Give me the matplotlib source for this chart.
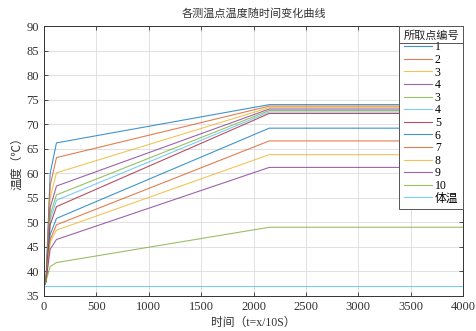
import matplotlib.pyplot as plt
from matplotlib.lines import Line2D

# time points (x = t*10 s)
t = [0, 20, 60, 120, 2150, 4000]

temp_1 = [37, 38, 60.0, 66.2, 74.0, 74.0]
temp_2 = [37, 38, 57.5, 63.2, 73.7, 73.7]
temp_3 = [37, 38, 55.0, 60.1, 73.4, 73.4]
temp_4 = [37, 38, 53.0, 57.4, 73.1, 73.1]
temp_3b = [37, 38, 51.5, 55.6, 72.8, 72.8]
temp_4b = [37, 38, 50.5, 54.5, 72.5, 72.5]
temp_5 = [37, 38, 49.5, 53.2, 72.2, 72.2]
temp_6 = [37, 38, 47.5, 50.8, 69.2, 69.2]
temp_7 = [37, 38, 46.5, 49.5, 66.6, 66.6]
temp_8 = [37, 38, 46.0, 48.4, 63.8, 63.8]
temp_9 = [37, 38, 44.5, 46.5, 61.2, 61.2]
temp_10 = [37, 38, 41.0, 41.8, 49.0, 49.0]
body = [37, 37, 37, 37, 37, 37]

series = [temp_1, temp_2, temp_3, temp_4, temp_3b, temp_4b, temp_5,
          temp_6, temp_7, temp_8, temp_9, temp_10, body]
labels = ['1', '2', '3', '4', '3', '4', '5', '6', '7', '8', '9', '10', '体温']

# matlab default colour order
colors = ['#0072BD', '#D95319', '#EDB120', '#7E2F8E', '#77AC30', '#4DBEEE',
          '#A2142F', '#0072BD', '#D95319', '#EDB120', '#7E2F8E', '#77AC30',
          '#4DBEEE']

fam = ['Liberation Serif', 'Noto Sans CJK SC']
plt.rcParams['font.family'] = fam

fig = plt.figure(figsize=(4.77, 3.31), dpi=100)
ax = fig.add_axes([0.092, 0.106, 0.879, 0.815])

for y, lab, c in zip(series, labels, colors):
    ax.plot(t, y, color=c, lw=0.8, alpha=0.75, label=lab)

ax.set_xlim(0, 4000)
ax.set_ylim(35, 90)
ax.set_xticks(range(0, 4001, 500))
ax.set_yticks(range(35, 91, 5))
ax.grid(True, color='#dcdcdc', lw=0.6)
ax.set_axisbelow(True)
ax.tick_params(direction='in', length=3, labelsize=9, top=True, right=True,
               colors='#333333', width=0.6)
for s in ax.spines.values():
    s.set_color('#333333')
    s.set_linewidth(0.7)

ax.set_title('各测温点温度随时间变化曲线', fontsize=8, color='#333333', pad=7)
ax.set_xlabel('时间（t=x/10S）', fontsize=8.5, color='#333333', labelpad=3)
ax.set_ylabel('温度（℃）', fontsize=8.5, color='#333333', labelpad=2)

leg = ax.legend(loc='upper right', bbox_to_anchor=(1.0, 1.0), borderaxespad=0,
                fontsize=8.5, title='所取点编号', title_fontsize=8,
                fancybox=False, framealpha=1, edgecolor='#555555',
                handlelength=2.4, handletextpad=0.2, labelspacing=0.05,
                borderpad=0.35)
leg.get_frame().set_linewidth(0.7)
leg.get_title().set_color('#222222')

# separator line under the legend title
fig.canvas.draw()
r = fig.canvas.get_renderer()
tb = leg.get_title().get_window_extent(r)
fb = leg.get_frame().get_window_extent(r)
inv = fig.transFigure.inverted()
x0, y0 = inv.transform((fb.x0, tb.y0 - 2))
x1, _ = inv.transform((fb.x1, tb.y0 - 2))
fig.add_artist(Line2D([x0, x1], [y0, y0], color='#555555', lw=0.7))

fig.savefig('out.png', dpi=100)
